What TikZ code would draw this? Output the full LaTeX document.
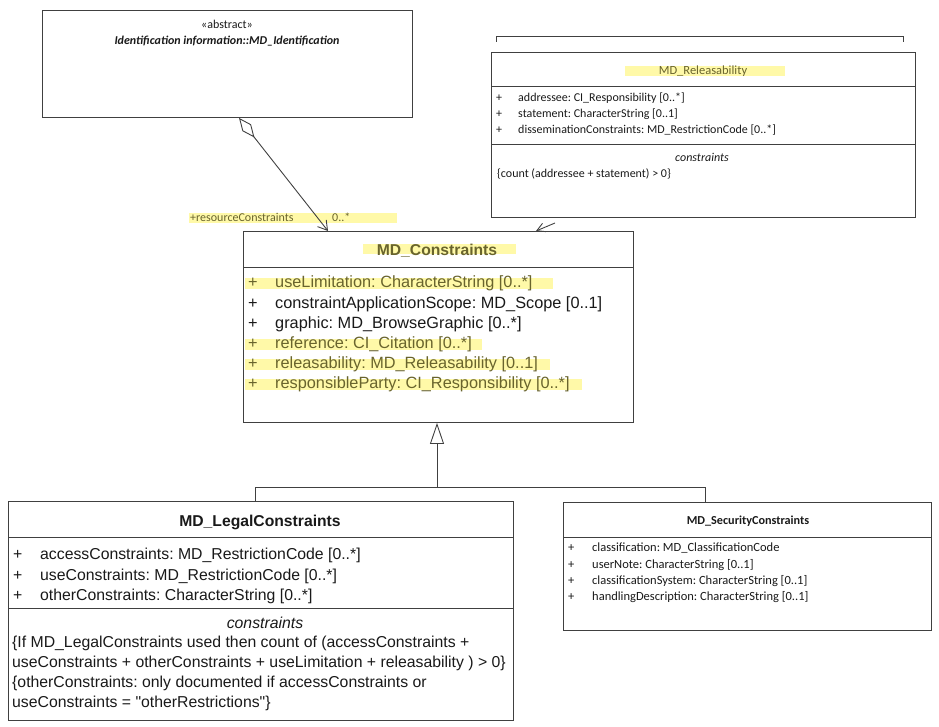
\documentclass[tikz,border=0pt]{standalone}
\usepackage{fontspec}
\setmainfont{Liberation Sans}[Ligatures=TeXOff]
\newfontfamily\smallface{Carlito}
\usetikzlibrary{arrows.meta}
\definecolor{lineGray}{RGB}{64,64,64}
\definecolor{textDark}{RGB}{25,25,25}
\definecolor{markYellow}{RGB}{255,249,168}
\definecolor{markText}{RGB}{105,100,45}
\frenchspacing

\begin{document}
\begin{tikzpicture}[x=1pt, y=-1pt,
    classbox/.style={draw=lineGray, line width=0.9pt, anchor=north west, inner sep=0pt},
    attr/.style={anchor=west, inner sep=0pt, text=textDark, font=\fontsize{15.8}{18}\selectfont},
    cattr/.style={attr, font=\fontsize{16.3}{18}\selectfont},
    sattr/.style={anchor=west, inner sep=0pt, text=textDark, font=\smallface\fontsize{12}{14}\selectfont},
    bigtitle/.style={inner sep=0pt, text=textDark, font=\bfseries\fontsize{15.7}{18}\selectfont},
    smalltitle/.style={inner sep=0pt, text=textDark, font=\smallface\fontsize{12.5}{14}\selectfont},
    marked/.style={text=markText},
    sep/.style={draw=lineGray, line width=0.9pt},
    agg/.style={draw=lineGray, line width=0.9pt, {Diamond[open,length=25pt,width=11pt]}-{Straight Barb[length=9pt,width=11pt]}},
    assoc/.style={draw=lineGray, line width=0.9pt, -{Straight Barb[length=8pt,width=9pt]}},
    gen/.style={draw=lineGray, line width=0.9pt, -{Triangle[open,length=21pt,width=14pt]}}]
  \useasboundingbox (0,0) rectangle (939,727);

  % highlights
  \fill[markYellow] (625,66) rectangle (785,76);
  \fill[markYellow] (363,244) rectangle (516,254);
  \fill[markYellow] (245,277.5) rectangle (553,288.5);
  \fill[markYellow] (245,338.5) rectangle (482,349.5);
  \fill[markYellow] (245,358.5) rectangle (550,369.5);
  \fill[markYellow] (245,378.5) rectangle (582,389.5);
  \fill[markYellow] (189,213) rectangle (397,223);

  % classes
  \node[classbox, minimum width=370pt, minimum height=107pt] (ident) at (42,10) {};
  \node[classbox, minimum width=424pt, minimum height=165pt] (rel) at (491,52) {};
  \node[classbox, minimum width=390pt, minimum height=191pt] (constr) at (243,231) {};
  \node[classbox, minimum width=505pt, minimum height=219pt] (legal) at (8,501) {};
  \node[classbox, minimum width=368pt, minimum height=128pt] (security) at (563,502) {};
  \draw[sep] (496,42) -- (496,36) -- (903,36) -- (903,42);

  \draw[sep] (rel.west |- 0,86) -- (rel.east |- 0,86);
  \draw[sep] (rel.west |- 0,144) -- (rel.east |- 0,144);
  \draw[sep] (constr.west |- 0,267) -- (constr.east |- 0,267);
  \draw[sep] (legal.west |- 0,537) -- (legal.east |- 0,537);
  \draw[sep] (legal.west |- 0,608) -- (legal.east |- 0,608);
  \draw[sep] (security.west |- 0,537) -- (security.east |- 0,537);

  % MD_Identification
  \node[smalltitle, font=\smallface\fontsize{12}{14}\selectfont] (identStereo) at (227,24) {«abstract»};
  \node[smalltitle, font=\smallface\bfseries\itshape\fontsize{12}{14}\selectfont] (identName) at (227,41) {Identification information::MD\_Identification};

  % MD_Releasability
  \node[smalltitle, marked] (relTitle) at (703,71) {MD\_Releasability};
  \foreach \y/\t [count=\i] in {98/addressee: CI\_Responsibility [0..*],
      114/statement: CharacterString [0..1],
      130/disseminationConstraints: MD\_RestrictionCode [0..*]} {
    \node[sattr] (relPlus\i) at (496,\y) {+};
    \node[sattr] (relAttr\i) at (518,\y) {\t};
  }
  \node[smalltitle, font=\smallface\itshape\fontsize{12}{14}\selectfont] (relCons) at (702,157) {constraints};
  \node[sattr] (relRule) at (497,174) {\{count (addressee + statement) > 0\}};

  % MD_Constraints
  \node[bigtitle, marked] (constrTitle) at (437,251) {MD\_Constraints};
  \foreach \y/\t/\c [count=\i] in {283/useLimitation: CharacterString [0..*]/markText,
      304/constraintApplicationScope: MD\_Scope [0..1]/textDark,
      324/graphic: MD\_BrowseGraphic [0..*]/textDark,
      344/reference: CI\_Citation [0..*]/markText,
      364/releasability: MD\_Releasability [0..1]/markText,
      384/responsibleParty: CI\_Responsibility [0..*]/markText} {
    \node[cattr, text=\c] (constrPlus\i) at (248,\y) {+};
    \node[cattr, text=\c] (constrAttr\i) at (275,\y) {\t};
  }

  % MD_LegalConstraints
  \node[bigtitle] (legalTitle) at (260,522) {MD\_LegalConstraints};
  \foreach \y/\t [count=\i] in {555/accessConstraints: MD\_RestrictionCode [0..*],
      576/useConstraints: MD\_RestrictionCode [0..*],
      596/otherConstraints: CharacterString [0..*]} {
    \node[attr] (legalPlus\i) at (13,\y) {+};
    \node[attr] (legalAttr\i) at (40,\y) {\t};
  }
  \node[attr, anchor=center, font=\itshape\fontsize{15.8}{18}\selectfont] (legalCons) at (265,623) {constraints};
  \node[attr] (legalRule1) at (12,643) {\{If MD\_LegalConstraints used then count of (accessConstraints +};
  \node[attr] (legalRule2) at (12,663) {useConstraints + otherConstraints + useLimitation + releasability ) > 0\}};
  \node[attr] (legalRule3) at (12,683) {\{otherConstraints: only documented if accessConstraints or};
  \node[attr] (legalRule4) at (12,703) {useConstraints = "otherRestrictions"\}};

  % MD_SecurityConstraints
  \node[smalltitle, font=\smallface\bfseries\fontsize{12.2}{14}\selectfont] (secTitle) at (748,521) {MD\_SecurityConstraints};
  \foreach \y/\t [count=\i] in {548/classification: MD\_ClassificationCode,
      565/userNote: CharacterString [0..1],
      581/classificationSystem: CharacterString [0..1],
      597/handlingDescription: CharacterString [0..1]} {
    \node[sattr, font=\smallface\fontsize{12.5}{14}\selectfont] (secPlus\i) at (568,\y) {+};
    \node[sattr, font=\smallface\fontsize{12.5}{14}\selectfont] (secAttr\i) at (592,\y) {\t};
  }

  % connectors
  \coordinate (aggFrom) at (239,117);
  \coordinate (aggTo) at (328,231);
  \draw[agg] (ident.south -| aggFrom) -- (constr.north -| aggTo);
  \node[sattr, marked] (roleName) at (190,217) {+resourceConstraints};
  \node[sattr, marked] (roleMult) at (332,217) {0..*};

  \coordinate (relTail) at (555,223);
  \coordinate (relHead) at (536,231);
  \draw[assoc] (relTail) -- (constr.north -| relHead);

  \coordinate (fork) at (437,487);
  \coordinate (legalUp) at (255,487);
  \coordinate (secUp) at (705,487);
  \draw[gen] (fork) -- (constr.south -| fork);
  \draw[sep] (legal.north -| legalUp) -- (legalUp) -- (secUp) -- (security.north -| secUp);
\end{tikzpicture}
\end{document}
